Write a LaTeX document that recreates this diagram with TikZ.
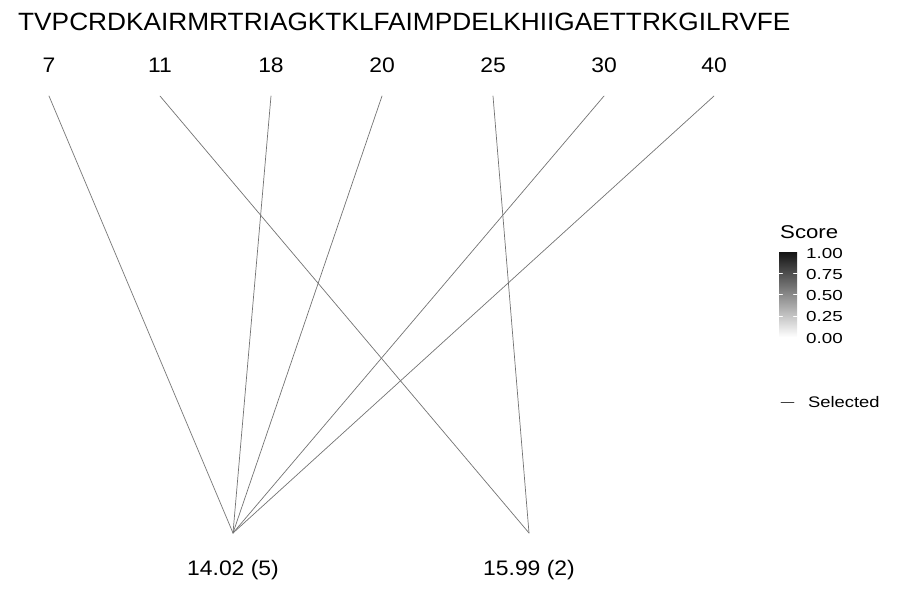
\documentclass[tikz,border=0pt]{standalone}
\usepackage{fontspec}
\setmainfont{Liberation Sans}
\newfontfamily\seqfont[FakeStretch=1.05]{Liberation Sans}
\newfontfamily\labfont[FakeStretch=1.09]{Liberation Sans}
\newfontfamily\keyfont[FakeStretch=1.2]{Liberation Sans}
\newfontfamily\tickfont[FakeStretch=1.3]{Liberation Sans}
\begin{document}
\begin{tikzpicture}[x=1pt, y=-1pt, line cap=round, line join=round,
    link/.style={black!55, line width=0.7pt},
    lbl/.style={inner sep=0, anchor=base, font=\labfont\fontsize{21}{24}\selectfont},
    key/.style={inner sep=0, anchor=base west, font=\tickfont\fontsize{14.5}{16}\selectfont}]
  \useasboundingbox (0,0) rectangle (900,600);

  \node[inner sep=0, anchor=base west, font=\seqfont\fontsize{25}{30}\selectfont] (seq) at (18,30) {TVPCRDKAIRMRTRIAGKTKLFAIMPDELKHIIGAETTRKGILRVFE};

  \foreach \n/\x in {7/49, 11/160, 18/271, 20/382, 25/493, 30/604, 40/714} {
    \node[lbl] (p\n) at (\x,72) {\n};
    \coordinate (t\n) at (\x,96);
  }

  \coordinate (a) at (233,533);
  \coordinate (b) at (529,533);
  \node[lbl] (la) at (233,575) {14.02 (5)};
  \node[lbl] (lb) at (529,575) {15.99 (2)};

  \foreach \n/\m in {7/a, 11/b, 18/a, 20/a, 25/b, 30/a, 40/a}
    \draw[link] (t\n) -- (\m);

  % legend
  \node[key, font=\keyfont\fontsize{18.5}{20}\selectfont] (score) at (780,238) {Score};
  \shade[top color=black!92, bottom color=white] (779,252) rectangle (797,337);
  \foreach \v in {0.25, 0.5, 0.75} {
    \draw[white, line width=0.5pt] (779,337-\v*85) -- ++(3.6,0);
    \draw[white, line width=0.5pt] (797,337-\v*85) -- ++(-3.6,0);
  }
  \foreach \v/\t in {0/0.00, 0.25/0.25, 0.5/0.50, 0.75/0.75, 1/1.00}
    \node[key] (k\v) at (806,343-\v*85) {\t};

  \coordinate (s1) at (781,402);
  \coordinate (s2) at (794,402);
  \draw[black!75, line width=0.7pt] (s1) -- (s2);
  \node[key, font=\keyfont\fontsize{15.3}{17}\selectfont] (sel) at (808,407) {Selected};
\end{tikzpicture}
\end{document}
